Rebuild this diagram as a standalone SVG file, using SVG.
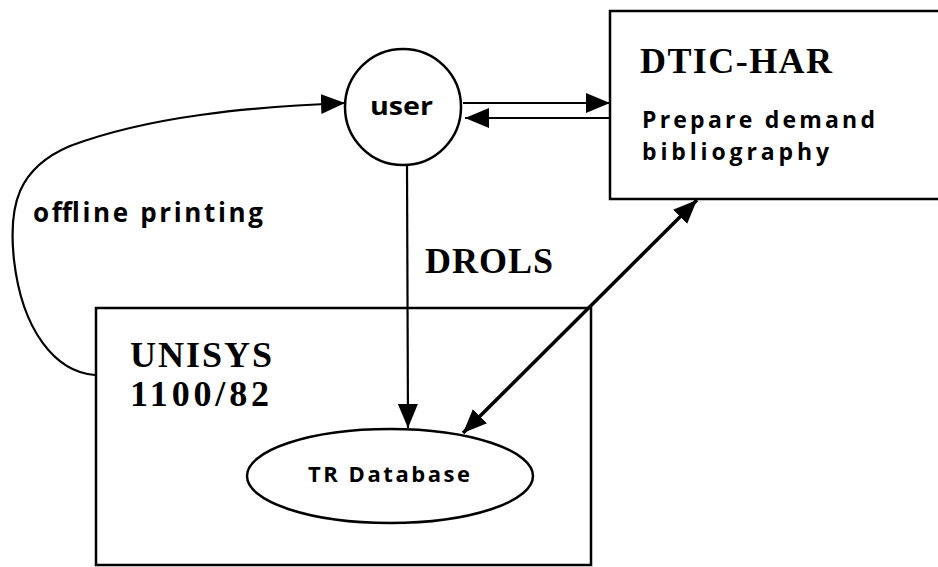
<svg xmlns="http://www.w3.org/2000/svg" width="938" height="567" viewBox="0 0 938 567">
<style>
.shape{fill:none;stroke:#000;stroke-width:2.5}
.line{fill:none;stroke:#000;stroke-width:2.2}
.thick{fill:none;stroke:#000;stroke-width:3.5}
.serif{font-family:"Liberation Serif","Times New Roman",serif;font-weight:bold;fill:#000}
.sans{font-family:"Open Sans","DejaVu Sans",sans-serif;font-weight:bold;fill:#000}
</style>
<defs>
<marker id="ah" viewBox="0 0 24 20" refX="24" refY="10" markerWidth="24" markerHeight="20" markerUnits="userSpaceOnUse" orient="auto-start-reverse">
<path d="M0,0 L24,10 L0,20 Z" fill="#000"/>
</marker>
</defs>
<rect width="938" height="567" fill="#fff"/>
<g id="user">
<circle class="shape" cx="403" cy="107" r="58"/>
<text class="sans" x="370" y="115" font-size="25" textLength="63" lengthAdjust="spacingAndGlyphs">user</text>
</g>
<g id="dtic-har">
<rect class="shape" x="610" y="11" width="340" height="188"/>
<text class="serif" x="640" y="73" font-size="36" textLength="192" lengthAdjust="spacing">DTIC-HAR</text>
<text class="sans" x="642" y="128" font-size="23" textLength="233" lengthAdjust="spacing">Prepare demand</text>
<text class="sans" x="642" y="160" font-size="23" textLength="187" lengthAdjust="spacing">bibliography</text>
</g>
<g id="unisys">
<rect class="shape" x="96" y="308" width="495" height="257"/>
<text class="serif" x="130" y="367" font-size="36" textLength="142" lengthAdjust="spacing">UNISYS</text>
<text class="serif" x="130" y="406" font-size="36" textLength="139" lengthAdjust="spacing">1100/82</text>
</g>
<g id="tr-database">
<ellipse class="shape" cx="390" cy="476" rx="143" ry="47"/>
<text class="sans" x="308" y="482" font-size="22" textLength="162" lengthAdjust="spacing">TR Database</text>
</g>
<g id="connectors">
<path class="line" d="M95,375 C55,372 22,330 14,260 C8,205 18,168 70,146 C150,116 250,107 345,103" marker-end="url(#ah)"/>
<line class="line" x1="463" y1="103" x2="610" y2="103" marker-end="url(#ah)"/>
<line class="line" x1="610" y1="118" x2="465" y2="118" marker-end="url(#ah)"/>
<line class="line" x1="407" y1="165" x2="408" y2="428" marker-end="url(#ah)"/>
<line class="thick" x1="463" y1="433" x2="697" y2="200" marker-start="url(#ah)" marker-end="url(#ah)"/>
</g>
<g id="labels">
<text class="sans" x="33" y="222" font-size="26" textLength="230" lengthAdjust="spacing">offline printing</text>
<text class="serif" x="425" y="273" font-size="36" textLength="128" lengthAdjust="spacing">DROLS</text>
</g>
</svg>
